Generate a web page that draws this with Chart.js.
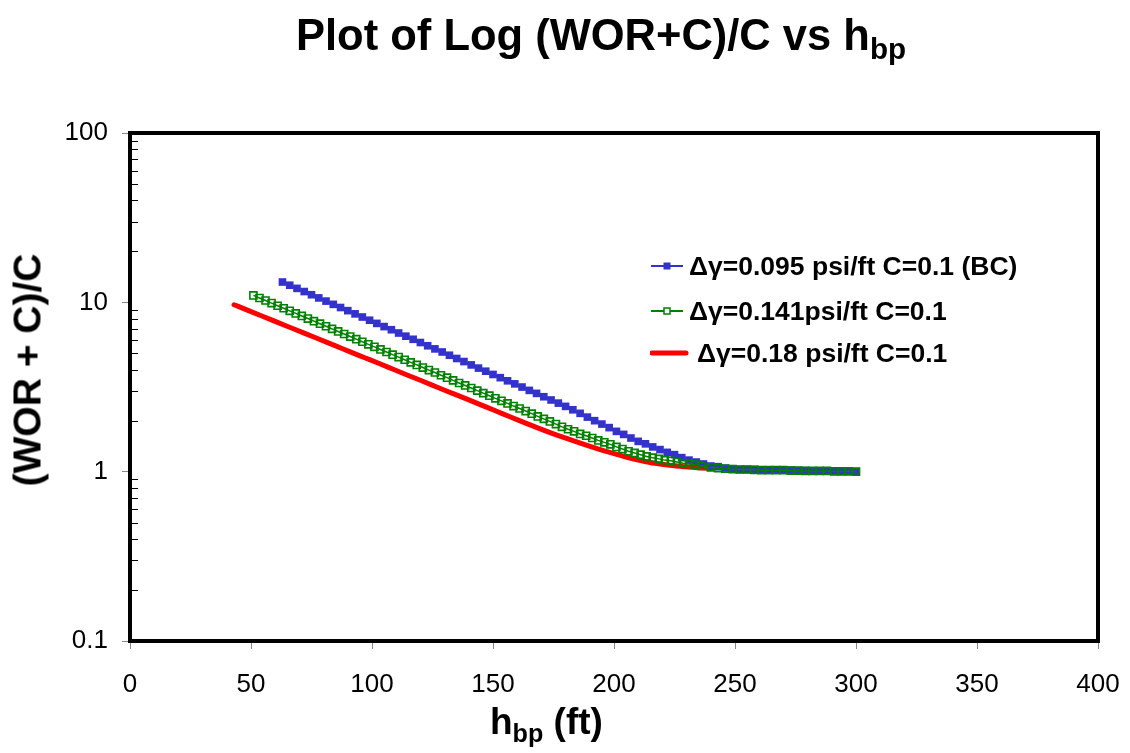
<!DOCTYPE html>
<html>
<head>
<meta charset="utf-8">
<script src="https://cdn.jsdelivr.net/npm/chart.js@4"></script>
<style>
  body { margin: 0; background: #fff; }
  #wrap { position: relative; width: 1130px; height: 753px; font-family: "Liberation Sans", Arial, sans-serif; color: #000; }
  #chart { position: absolute; left: 0; top: 0; }
  .txt { position: absolute; white-space: nowrap; font-weight: bold; line-height: 1; }
  .txt sub { font-size: 68%; vertical-align: -0.3em; }
  #title { left: 296px; top: 14px; font-size: 43.5px; }
  #xtitle { left: 490px; top: 703px; font-size: 37px; }
  #ytitle { left: 27px; top: 370px; font-size: 39px; transform: translate(-50%, -50%) rotate(-90deg); }
  .leg { position: absolute; left: 650px; height: 28px; display: flex; align-items: center; font-weight: bold; font-size: 26.5px; white-space: nowrap; }
  .leg svg { margin-right: 5px; }
</style>
</head>
<body>
<div id="wrap">
  <canvas id="chart" width="1130" height="753"></canvas>
  <div class="txt" id="title">Plot of Log (WOR+C)/C vs h<sub>bp</sub></div>
  <div class="txt" id="xtitle">h<sub>bp</sub> (ft)</div>
  <div class="txt" id="ytitle">(WOR + C)/C</div>
  <div class="leg" style="top:252px"><svg width="34" height="10"><line x1="1" y1="5" x2="33" y2="5" stroke="#3333cc" stroke-width="2"/><rect x="13.5" y="1.5" width="7" height="7" fill="#3333cc"/></svg>Δγ=0.095 psi/ft C=0.1 (BC)</div>
  <div class="leg" style="top:297px"><svg width="34" height="10"><line x1="1" y1="5" x2="33" y2="5" stroke="#008000" stroke-width="2"/><rect x="14" y="2" width="6" height="6" fill="#fff" stroke="#008000" stroke-width="1.5"/></svg>Δγ=0.141psi/ft C=0.1</div>
  <div class="leg" style="top:339px"><svg width="42" height="10"><line x1="2" y1="5" x2="36" y2="5" stroke="#ff0000" stroke-width="5" stroke-linecap="round"/></svg>Δγ=0.18 psi/ft C=0.1</div>
</div>
<script>
// h_bp (ft) and (WOR + C)/C
const blueX = [63,66,69,72,75,78,81,84,87,90,93,96,99,102,105,108,111,114,117,120,
  123,126,129,132,135,138,141,144,147,150,153,156,159,162,165,168,171,174,177,180,
  183,186,189,192,195,198,201,204,207,210,213,216,219,222,225,228,231,234,237,240,
  243,246,249,252,255,258,261,264,267,270,273,276,279,282,285,288,291,294,297,300];
const blueY = [13.18,12.62,12.09,11.58,11.09,10.62,10.17,9.73,9.32,8.93,
  8.55,8.19,7.84,7.51,7.19,6.89,6.59,6.31,6.05,5.79,
  5.54,5.31,5.09,4.87,4.66,4.47,4.27,4.09,3.92,3.75,
  3.59,3.44,3.30,3.16,3.02,2.90,2.77,2.65,2.54,2.43,
  2.32,2.21,2.10,2.00,1.91,1.82,1.73,1.66,1.58,1.51,
  1.46,1.40,1.35,1.30,1.26,1.21,1.17,1.14,1.11,1.08,
  1.07,1.05,1.04,1.03,1.03,1.03,1.02,1.02,1.02,1.02,
  1.02,1.015,1.015,1.01,1.01,1.01,1.01,1.005,1.005,1.00];

const greenX = [51,53.5,56,58.5,61,63.5,66,68.5,71,73.5,
  76,78.5,81,83.5,86,88.5,91,93.5,96,98.5,
  101,103.5,106,108.5,111,113.5,116,118.5,121,123.5,
  126,128.5,131,133.5,136,138.5,141,143.5,146,148.5,
  151,153.5,156,158.5,161,163.5,166,168.5,171,173.5,
  176,178.5,181,183.5,186,188.5,191,193.5,196,198.5,
  201,203.5,206,208.5,211,213.5,216,218.5,221,223.5,
  226,228.5,231,233.5,236,
  240,243,246,249,252,255,258,261,264,267,270,273,276,279,282,285,288,291,294,297,300];
const greenY = [10.99,10.61,10.25,9.90,9.55,9.23,8.91,8.60,8.31,8.02,
  7.74,7.48,7.22,6.97,6.73,6.50,6.28,6.06,5.85,5.65,
  5.46,5.27,5.09,4.91,4.75,4.58,4.42,4.27,4.12,3.98,
  3.85,3.71,3.59,3.46,3.34,3.23,3.12,3.01,2.91,2.81,
  2.71,2.62,2.53,2.44,2.36,2.28,2.20,2.12,2.05,1.98,
  1.91,1.84,1.78,1.73,1.67,1.63,1.58,1.53,1.49,1.45,
  1.40,1.36,1.32,1.29,1.26,1.23,1.21,1.19,1.17,1.16,
  1.14,1.12,1.11,1.10,1.08,
  1.06,1.05,1.04,1.035,1.03,1.03,1.025,1.02,1.02,1.02,1.02,1.015,1.015,1.01,1.01,1.01,1.01,1.005,1.005,1.005,1.00];

const redX = [43,49,55,61,67,73,79,85,91,97,103,109,115,121,127,133,139,145,151,157,
  163,169,175,181,187,193,199,205,211,217,223,229,235,241];
const redY = [9.68,8.94,8.25,7.61,7.03,6.49,5.99,5.53,5.10,4.71,4.35,4.01,3.70,3.42,3.15,2.91,2.69,2.48,2.29,2.11,
  1.95,1.80,1.67,1.56,1.46,1.37,1.29,1.22,1.165,1.12,1.09,1.07,1.055,1.045];

const yTicks = [0.1,0.2,0.3,0.4,0.5,0.6,0.7,0.8,0.9,1,2,3,4,5,6,7,8,9,10,20,30,40,50,60,70,80,90,100];
const yLabels = { 0.1: "0.1", 1: "1", 10: "10", 100: "100" };

const pts = (xs, ys) => xs.map((x, i) => ({ x: x, y: ys[i] }));
const isMajor = v => yLabels[v] !== undefined;

const frame = {
  id: "frame",
  afterDraw(chart) {
    const { ctx, chartArea: a } = chart;
    const y = chart.scales.y;
    ctx.save();
    ctx.strokeStyle = "#000";
    ctx.lineWidth = 1;
    yTicks.filter(v => !isMajor(v)).forEach(v => {
      const py = Math.round(y.getPixelForValue(v)) + 0.5;
      ctx.beginPath();
      ctx.moveTo(a.left, py);
      ctx.lineTo(a.left + 8, py);
      ctx.stroke();
    });
    ctx.lineWidth = 4;
    ctx.strokeRect(a.left, a.top, a.right - a.left, a.bottom - a.top);
    ctx.restore();
  }
};

new Chart(document.getElementById("chart"), {
  type: "scatter",
  data: {
    datasets: [
      {
        label: "Δγ=0.141psi/ft C=0.1",
        data: pts(greenX, greenY),
        showLine: true,
        borderColor: "#008000",
        borderWidth: 1.5,
        pointStyle: "rect",
        pointRadius: 5,
        pointBorderWidth: 1.6,
        pointBorderColor: "#008000",
        pointBackgroundColor: "rgba(0,0,0,0)",
        order: 0
      },
      {
        label: "Δγ=0.095 psi/ft C=0.1 (BC)",
        data: pts(blueX, blueY),
        showLine: true,
        borderColor: "#3333cc",
        borderWidth: 2,
        pointStyle: "rect",
        pointRadius: 5.4,
        pointBorderWidth: 0,
        pointBackgroundColor: "#3333cc",
        order: 1
      },
      {
        label: "Δγ=0.18 psi/ft C=0.1",
        data: pts(redX, redY),
        showLine: true,
        borderColor: "#ff0000",
        borderWidth: 5,
        borderCapStyle: "round",
        borderJoinStyle: "round",
        cubicInterpolationMode: "monotone",
        pointRadius: 0,
        order: 2
      }
    ]
  },
  options: {
    responsive: false,
    animation: false,
    layout: { padding: { top: 133, right: 32, left: 0, bottom: 0 } },
    plugins: {
      legend: { display: false },
      tooltip: { enabled: false }
    },
    scales: {
      x: {
        type: "linear",
        min: 0,
        max: 400,
        ticks: {
          stepSize: 50,
          padding: 20,
          color: "#000",
          font: { family: "Liberation Sans", size: 26 }
        },
        grid: { drawOnChartArea: false, tickLength: 8, tickColor: "#888" },
        border: { display: false },
        afterFit(scale) {
          scale.height = 112;
          scale.paddingLeft = 0;
          scale.paddingRight = 0;
        }
      },
      y: {
        type: "logarithmic",
        min: 0.1,
        max: 100,
        afterBuildTicks(scale) { scale.ticks = yTicks.map(v => ({ value: v })); },
        ticks: {
          autoSkip: false,
          padding: 14,
          color: "#000",
          font: { family: "Liberation Sans", size: 26 },
          callback: v => yLabels[v] || ""
        },
        grid: {
          drawOnChartArea: false,
          tickLength: 8,
          tickColor: ctx => isMajor(ctx.tick.value) ? "#888" : "rgba(0,0,0,0)"
        },
        border: { display: false },
        afterFit(scale) {
          scale.width = 130;
          scale.paddingTop = 0;
          scale.paddingBottom = 0;
        }
      }
    }
  },
  plugins: [frame]
});
</script>
</body>
</html>
